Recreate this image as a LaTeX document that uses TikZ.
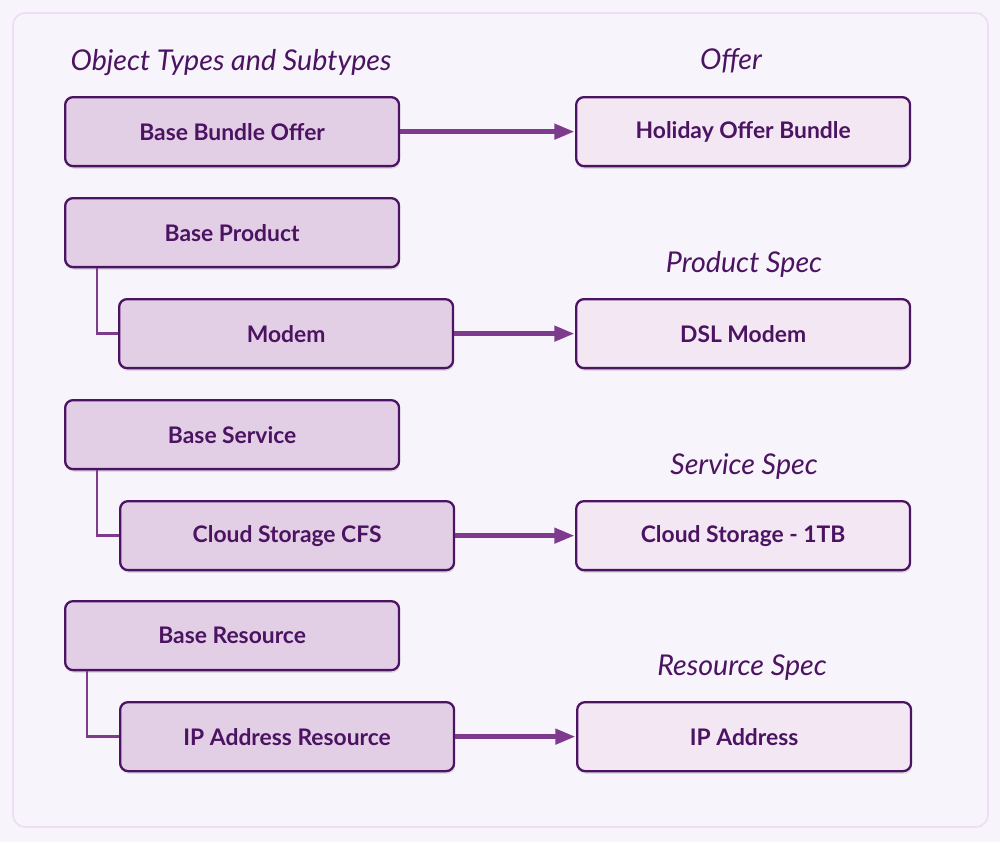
\documentclass[tikz,border=0pt]{standalone}
\usepackage{fontspec}
\setmainfont{Lato}
\usetikzlibrary{shadows,arrows.meta}
\definecolor{bgc}{HTML}{F8F4FB}
\definecolor{framec}{HTML}{EEDDF3}
\definecolor{boxa}{HTML}{E2CFE6}
\definecolor{boxb}{HTML}{F3E7F4}
\definecolor{edgec}{HTML}{4B1361}
\definecolor{arrc}{HTML}{7E3B8E}
\definecolor{txtc}{HTML}{4B1361}
\tikzset{
  px/.style={x=0.02cm,y=-0.02cm},
  basebox/.style={draw=edgec, line width=1.3pt, rounded corners=4.5pt, minimum width=6.68cm, minimum height=1.38cm, inner sep=0pt, text=txtc, font=\fontsize{13}{15}\selectfont\bfseries, anchor=north west, drop shadow={shadow xshift=0.5pt, shadow yshift=-1.5pt, opacity=0.18, fill=black!60}},
  typebox/.style={basebox, fill=boxa},
  specbox/.style={basebox, fill=boxb},
  heading/.style={text=txtc, font=\fontsize{16.3}{19}\selectfont\itshape, inner sep=0pt},
  flow/.style={draw=arrc, line width=2.7pt, -{Triangle[length=11.5pt,width=8.5pt]}, shorten >=0.3pt},
  tree/.style={draw=arrc, line width=1.4pt},
}
\begin{document}
\begin{tikzpicture}[px]
\useasboundingbox (0,0) rectangle (1000,842);
\fill[bgc] (0,0) rectangle (1000,842);
\draw[framec, fill=bgc, line width=1pt, rounded corners=7pt] (13,13) rectangle (988,827);

\node[heading] (h1) at (231,63) {Object Types and Subtypes};
\node[heading] (h2) at (731,61) {Offer};
\node[heading] (h3) at (744,264) {Product Spec};
\node[heading] (h4) at (744,466) {Service Spec};
\node[heading] (h5) at (742,668) {Resource Spec};

\node[typebox] (bbo) at (64,96) {Base Bundle Offer};
\node[specbox] (hob) at (575,96) {Holiday Offer Bundle};

\node[typebox] (bp) at (64,197) {Base Product};
\node[typebox] (mod) at (118,298) {Modem};
\node[specbox] (dsl) at (575,298) {DSL Modem};

\node[typebox] (bs) at (64,399) {Base Service};
\node[typebox] (cfs) at (119,500) {Cloud Storage CFS};
\node[specbox] (cs1) at (575,500) {Cloud Storage - 1TB};

\node[typebox] (br) at (64,600) {Base Resource};
\node[typebox] (ipr) at (119,701) {IP Address Resource};
\node[specbox] (ip) at (576,701) {IP Address};

\draw[tree] (bp.south west) ++(33,0) coordinate (t1) |- (mod.west);
\draw[tree] (bs.south west) ++(33,0) coordinate (t2) |- (cfs.west);
\draw[tree] (br.south west) ++(23,0) coordinate (t3) |- (ipr.west);

\draw[flow] (bbo.east) -- (hob.west);
\draw[flow] (mod.east) -- (dsl.west);
\draw[flow] (cfs.east) -- (cs1.west);
\draw[flow] (ipr.east) -- (ip.west);
\end{tikzpicture}
\end{document}
